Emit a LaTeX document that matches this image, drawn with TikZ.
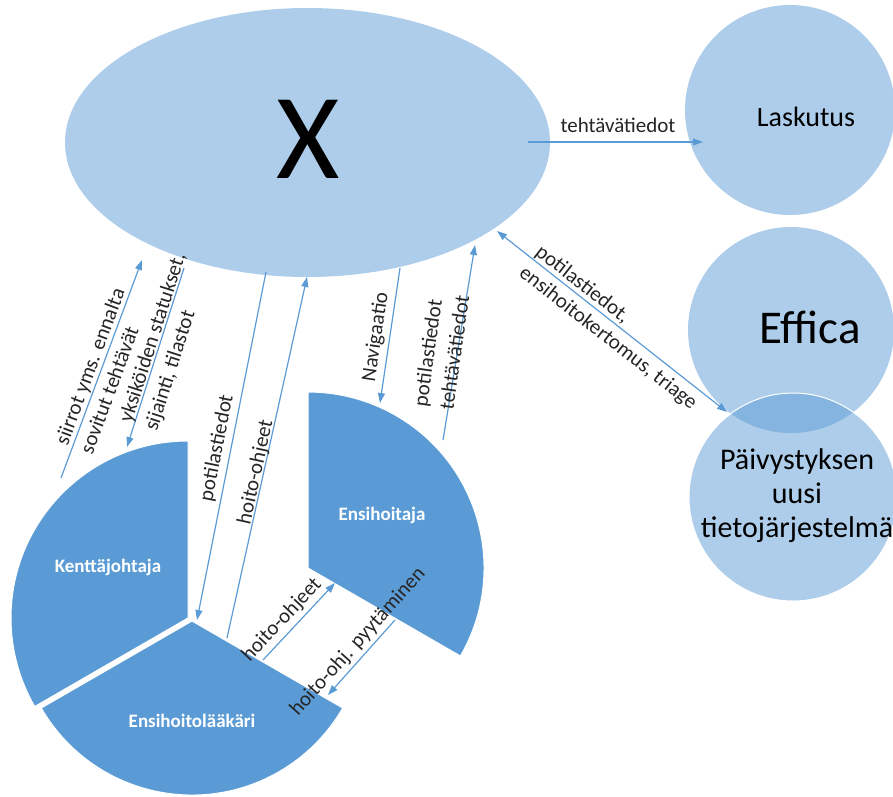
\documentclass[tikz,border=0pt]{standalone}
\usepackage{fontspec}
\setmainfont{Carlito}
\usetikzlibrary{arrows.meta,shapes.geometric}
\definecolor{acc}{HTML}{5B9BD5}
\begin{document}
\begin{tikzpicture}[x=1pt,y=-1pt,
  tip/.tip={Triangle[length=10pt,width=7pt]},
  conn/.style={draw=acc, line width=1.2pt, -tip},
  conn2/.style={draw=acc, line width=1.2pt, tip-tip},
  lbl/.style={font=\fontsize{21}{26.5}\selectfont, text=black!85, inner sep=0pt, align=left},
  sector/.style={fill=acc, draw=white, line width=1pt},
  seclbl/.style={font=\fontsize{19}{22}\selectfont\bfseries, text=white, inner sep=0pt},
  sys/.style={circle, fill=acc, fill opacity=0.5, draw=none, minimum size=#1, inner sep=0pt},
  systxt/.style={text=black, inner sep=0pt, align=center},
]
\useasboundingbox (0,0) rectangle (893,796);
\clip (0,0) rectangle (893,796);

% main system
\node[ellipse, fill=acc, fill opacity=0.5, minimum width=485pt, minimum height=269pt, inner sep=0pt] (X) at (307.5,142.5) {};
\node[font=\fontsize{122}{122}\selectfont, inner sep=0pt] (Xt) at (308,139) {X};

% other systems
\node[sys=210pt] (L) at (790,110) {};
\node[systxt, font=\fontsize{28}{30}\selectfont] (Lt) at (806,117) {Laskutus};
\node[sys=206pt] (E) at (791,330) {};
\node[systxt, font=\fontsize{47}{50}\selectfont] (Et) at (810,327) {Effica};
\node[sys=208pt, draw=white, draw opacity=1, line width=1pt] (P) at (793,497) {};
\node[systxt, font=\fontsize{30}{34}\selectfont] (Pt) at (797,496) {Päivystyksen\\uusi\\tietojärjestelmä};

% pie sectors
\path[sector] (188,618) -- ++(90:177pt) arc[start angle=90, end angle=210, radius=177pt] -- cycle;
\path[sector] (192,621) -- ++(210:174pt) arc[start angle=210, end angle=330, radius=174pt] -- cycle;
\path[sector] (308,568) -- ++(-30:176pt) arc[start angle=-30, end angle=90, radius=176pt] -- cycle;
\node[seclbl] (kj) at (108,567) {Kenttäjohtaja};
\node[seclbl] (el) at (192,721) {Ensihoitolääkäri};
\node[seclbl] (eh) at (382,515) {Ensihoitaja};

% connector end points
\coordinate (a1s) at (528,142); \coordinate (a1e) at (703,142);
\coordinate (a2s) at (497,231); \coordinate (a2e) at (727,412);
\coordinate (a3s) at (61,478);  \coordinate (a3e) at (142,260);
\coordinate (a4s) at (184,268); \coordinate (a4e) at (127,447);
\coordinate (a5s) at (266,272); \coordinate (a5e) at (197,620);
\coordinate (a6s) at (227,638); \coordinate (a6e) at (307,277);
\coordinate (a7s) at (400,268); \coordinate (a7e) at (380,403);
\coordinate (a8s) at (443,440); \coordinate (a8e) at (475,245);
\coordinate (a9s) at (263,660); \coordinate (a9e) at (335,583);
\coordinate (a10s) at (395,620); \coordinate (a10e) at (328,695);

\draw[conn] (a1s) -- (a1e);
\draw[conn2] (a2s) -- (a2e);
\draw[conn] (a3s) -- (a3e);
\draw[conn] (a4s) -- (a4e);
\draw[conn] (a5s) -- (a5e);
\draw[conn] (a6s) -- (a6e);
\draw[conn] (a7s) -- (a7e);
\draw[conn] (a8s) -- (a8e);
\draw[conn] (a9s) -- (a9e);
\draw[conn] (a10s) -- (a10e);

% connector labels
\node[lbl] (l1) at (618,125) {tehtävätiedot};
\node[lbl, rotate=-38] (l2) at (616,328) {potilastiedot,\\ensihoitokertomus, triage};
\node[lbl, rotate=69.6] (l3) at (102,371) {siirrot yms. ennalta\\sovitut tehtävät};
\node[lbl, rotate=72.3] (l4) at (166,342) {yksiköiden statukset,\\sijainti, tilastot};
\node[lbl, rotate=78.8] (l5) at (217,448) {potilastiedot};
\node[lbl, rotate=77.7] (l6) at (256,472) {hoito-ohjeet};
\node[lbl, rotate=81.6] (l7) at (376,337) {Navigaatio};
\node[lbl, rotate=82] (l8) at (441,351) {potilastiedot\\tehtävätiedot};
\node[lbl, rotate=47] (l9) at (282,620) {hoito-ohjeet};
\node[lbl, rotate=48] (l10) at (358,642) {hoito-ohj. pyytäminen};
\end{tikzpicture}
\end{document}
